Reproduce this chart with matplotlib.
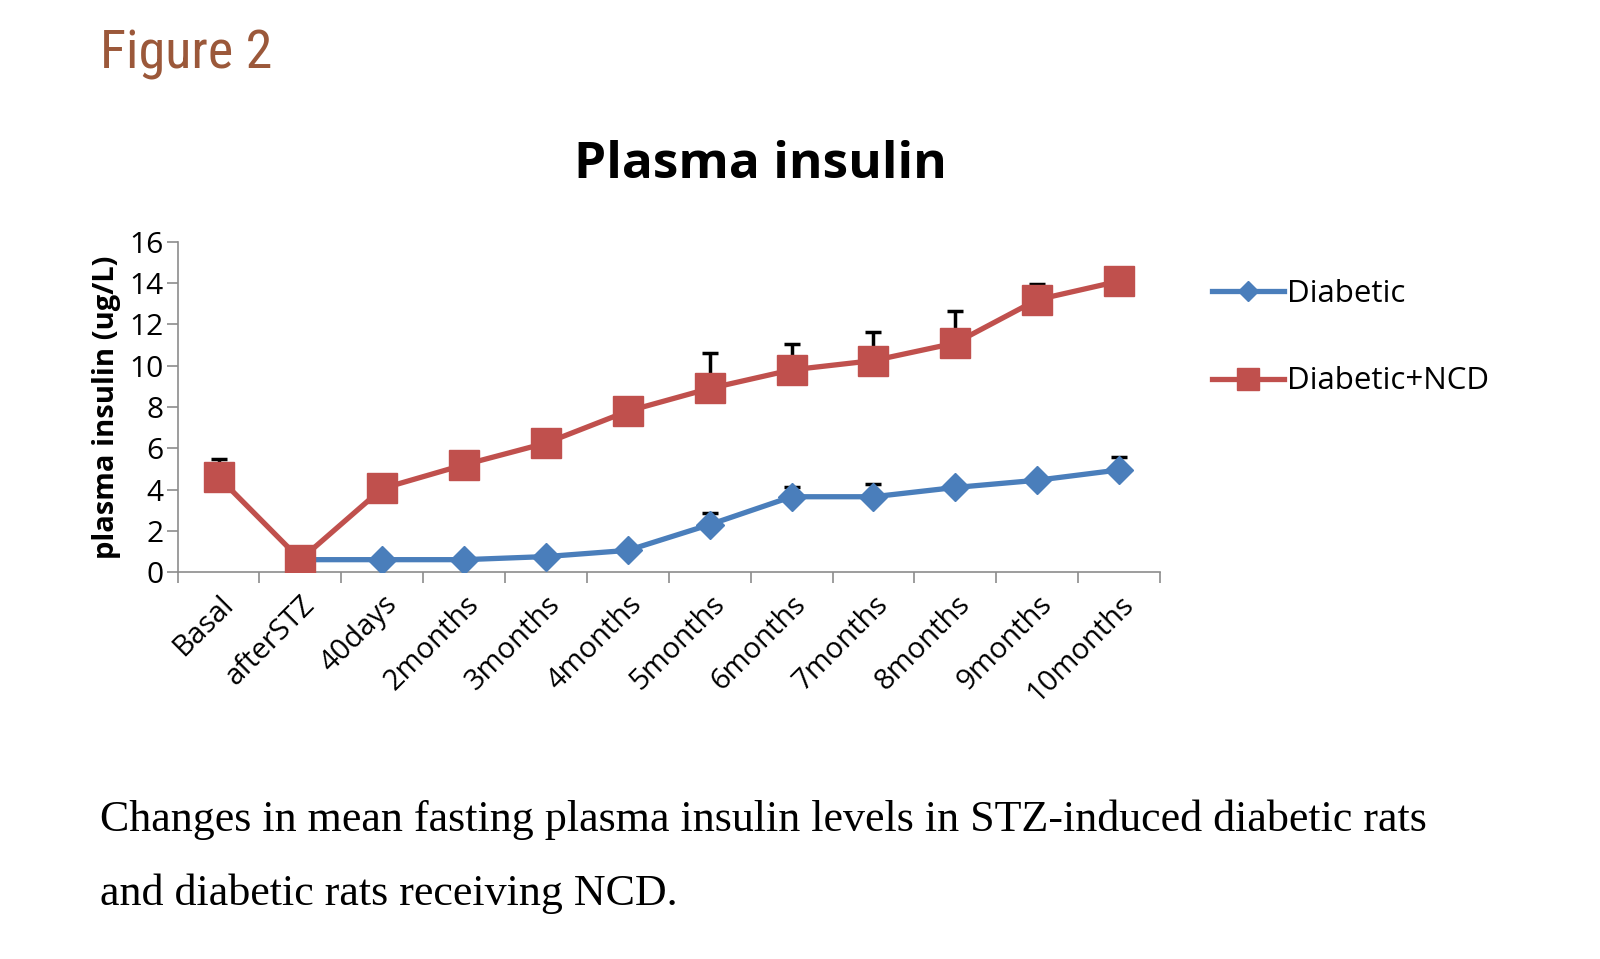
import matplotlib
matplotlib.use("Agg")
import matplotlib.pyplot as plt
import numpy as np
from matplotlib.ticker import FixedLocator, NullFormatter
from matplotlib import font_manager

categories = ["Basal", "afterSTZ", "40days", "2months", "3months", "4months",
              "5months", "6months", "7months", "8months", "9months", "10months"]
diabetic = [None, 0.6, 0.6, 0.6, 0.75, 1.05, 2.3, 3.65, 3.65, 4.1, 4.45, 4.95]
diabetic_err = [0, 0.0, 0.0, 0.0, 0.0, 0.1, 0.55, 0.45, 0.6, 0.2, 0.15, 0.65]
ncd = [4.6, 0.6, 4.05, 5.2, 6.25, 7.8, 8.9, 9.8, 10.25, 11.1, 13.2, 14.1]
ncd_err = [0.9, 0.0, 0.0, 0.0, 0.0, 0.0, 1.7, 1.25, 1.4, 1.55, 0.75, 0.6]
yticks = [0, 2, 4, 6, 8, 10, 12, 14, 16]

BLUE = "#4A7EBB"
RED = "#C0504D"
GRAY = "#8C8C8C"

# pick a condensed face for the "Figure 2" heading if one is installed
names = {f.name for f in font_manager.fontManager.ttflist}
narrow = None
for cand in ["Liberation Sans Narrow", "Roboto Condensed", "Open Sans Condensed",
             "DejaVu Sans Condensed", "Noto Sans Condensed"]:
    if cand in names:
        narrow = cand
        break

fig = plt.figure(figsize=(16, 9.59), dpi=100)
ax = fig.add_axes([0.111, 0.4035, 0.614, 0.3442])

x = np.arange(len(categories))
dx = np.array([i for i, v in enumerate(diabetic) if v is not None])
dy = np.array([v for v in diabetic if v is not None])
de = np.array([diabetic_err[i] for i in dx])

ax.errorbar(dx, dy, yerr=[np.zeros_like(de), de], fmt="none", ecolor="black",
            elinewidth=2.5, capsize=6, capthick=2.5, zorder=2)
ax.errorbar(x, ncd, yerr=[np.zeros(len(ncd)), ncd_err], fmt="none", ecolor="black",
            elinewidth=2.5, capsize=6, capthick=2.5, zorder=2)
ax.plot(dx, dy, color=BLUE, lw=3.8, marker="D", markersize=14, label="Diabetic", zorder=3)
ax.plot(x, ncd, color=RED, lw=3.8, marker="s", markersize=21, label="Diabetic+NCD", zorder=4)

ax.set_xlim(-0.5, len(categories) - 0.5)
ax.set_ylim(0, 16)
ax.set_yticks(yticks)
ax.set_yticklabels([str(t) for t in yticks], fontsize=21.5, family="Open Sans")
ax.xaxis.set_major_locator(FixedLocator(np.arange(-0.5, len(categories), 1.0)))
ax.xaxis.set_major_formatter(NullFormatter())
ax.set_xticks(x, minor=True)
ax.set_xticklabels(categories, minor=True, rotation=45, ha="right",
                   rotation_mode="anchor", fontsize=21, family="Open Sans")
ax.tick_params(axis="x", which="minor", length=0, pad=13)
ax.tick_params(axis="x", which="major", length=8, width=1.2, color=GRAY, direction="out")
ax.tick_params(axis="y", length=8, width=1.2, color=GRAY, direction="out", pad=2)

for s in ["top", "right"]:
    ax.spines[s].set_visible(False)
for s in ["left", "bottom"]:
    ax.spines[s].set_color(GRAY)
    ax.spines[s].set_linewidth(1.2)

ax.set_ylabel("plasma insulin (ug/L)", fontsize=21, fontweight="bold", family="Open Sans", labelpad=6)

fig.text(0.475, 0.828, "Plasma insulin", fontsize=37, fontweight="bold", family="Open Sans",
         ha="center", va="center")

fig.legend(loc="center left", bbox_to_anchor=(0.740, 0.648), frameon=False,
           prop={"family": "Open Sans", "size": 22.5}, handlelength=2.3,
           labelspacing=1.85, handletextpad=0.1, markerscale=0.75)

if narrow:
    fig.text(0.0625, 0.943, "Figure 2", fontsize=39, color="#9B583A",
             family=[narrow, "DejaVu Sans"], ha="left", va="center")
else:
    fig.text(0.0625, 0.943, "Figure 2", fontsize=39, color="#9B583A",
             family="DejaVu Sans", stretch="condensed", ha="left", va="center")

fig.text(0.0625, 0.145, "Changes in mean fasting plasma insulin levels in STZ-induced diabetic rats",
         fontsize=31.7, family="Liberation Serif", ha="left", va="center")
fig.text(0.0625, 0.068, "and diabetic rats receiving NCD.",
         fontsize=31.7, family="Liberation Serif", ha="left", va="center")

fig.savefig("out.png", dpi=100)
